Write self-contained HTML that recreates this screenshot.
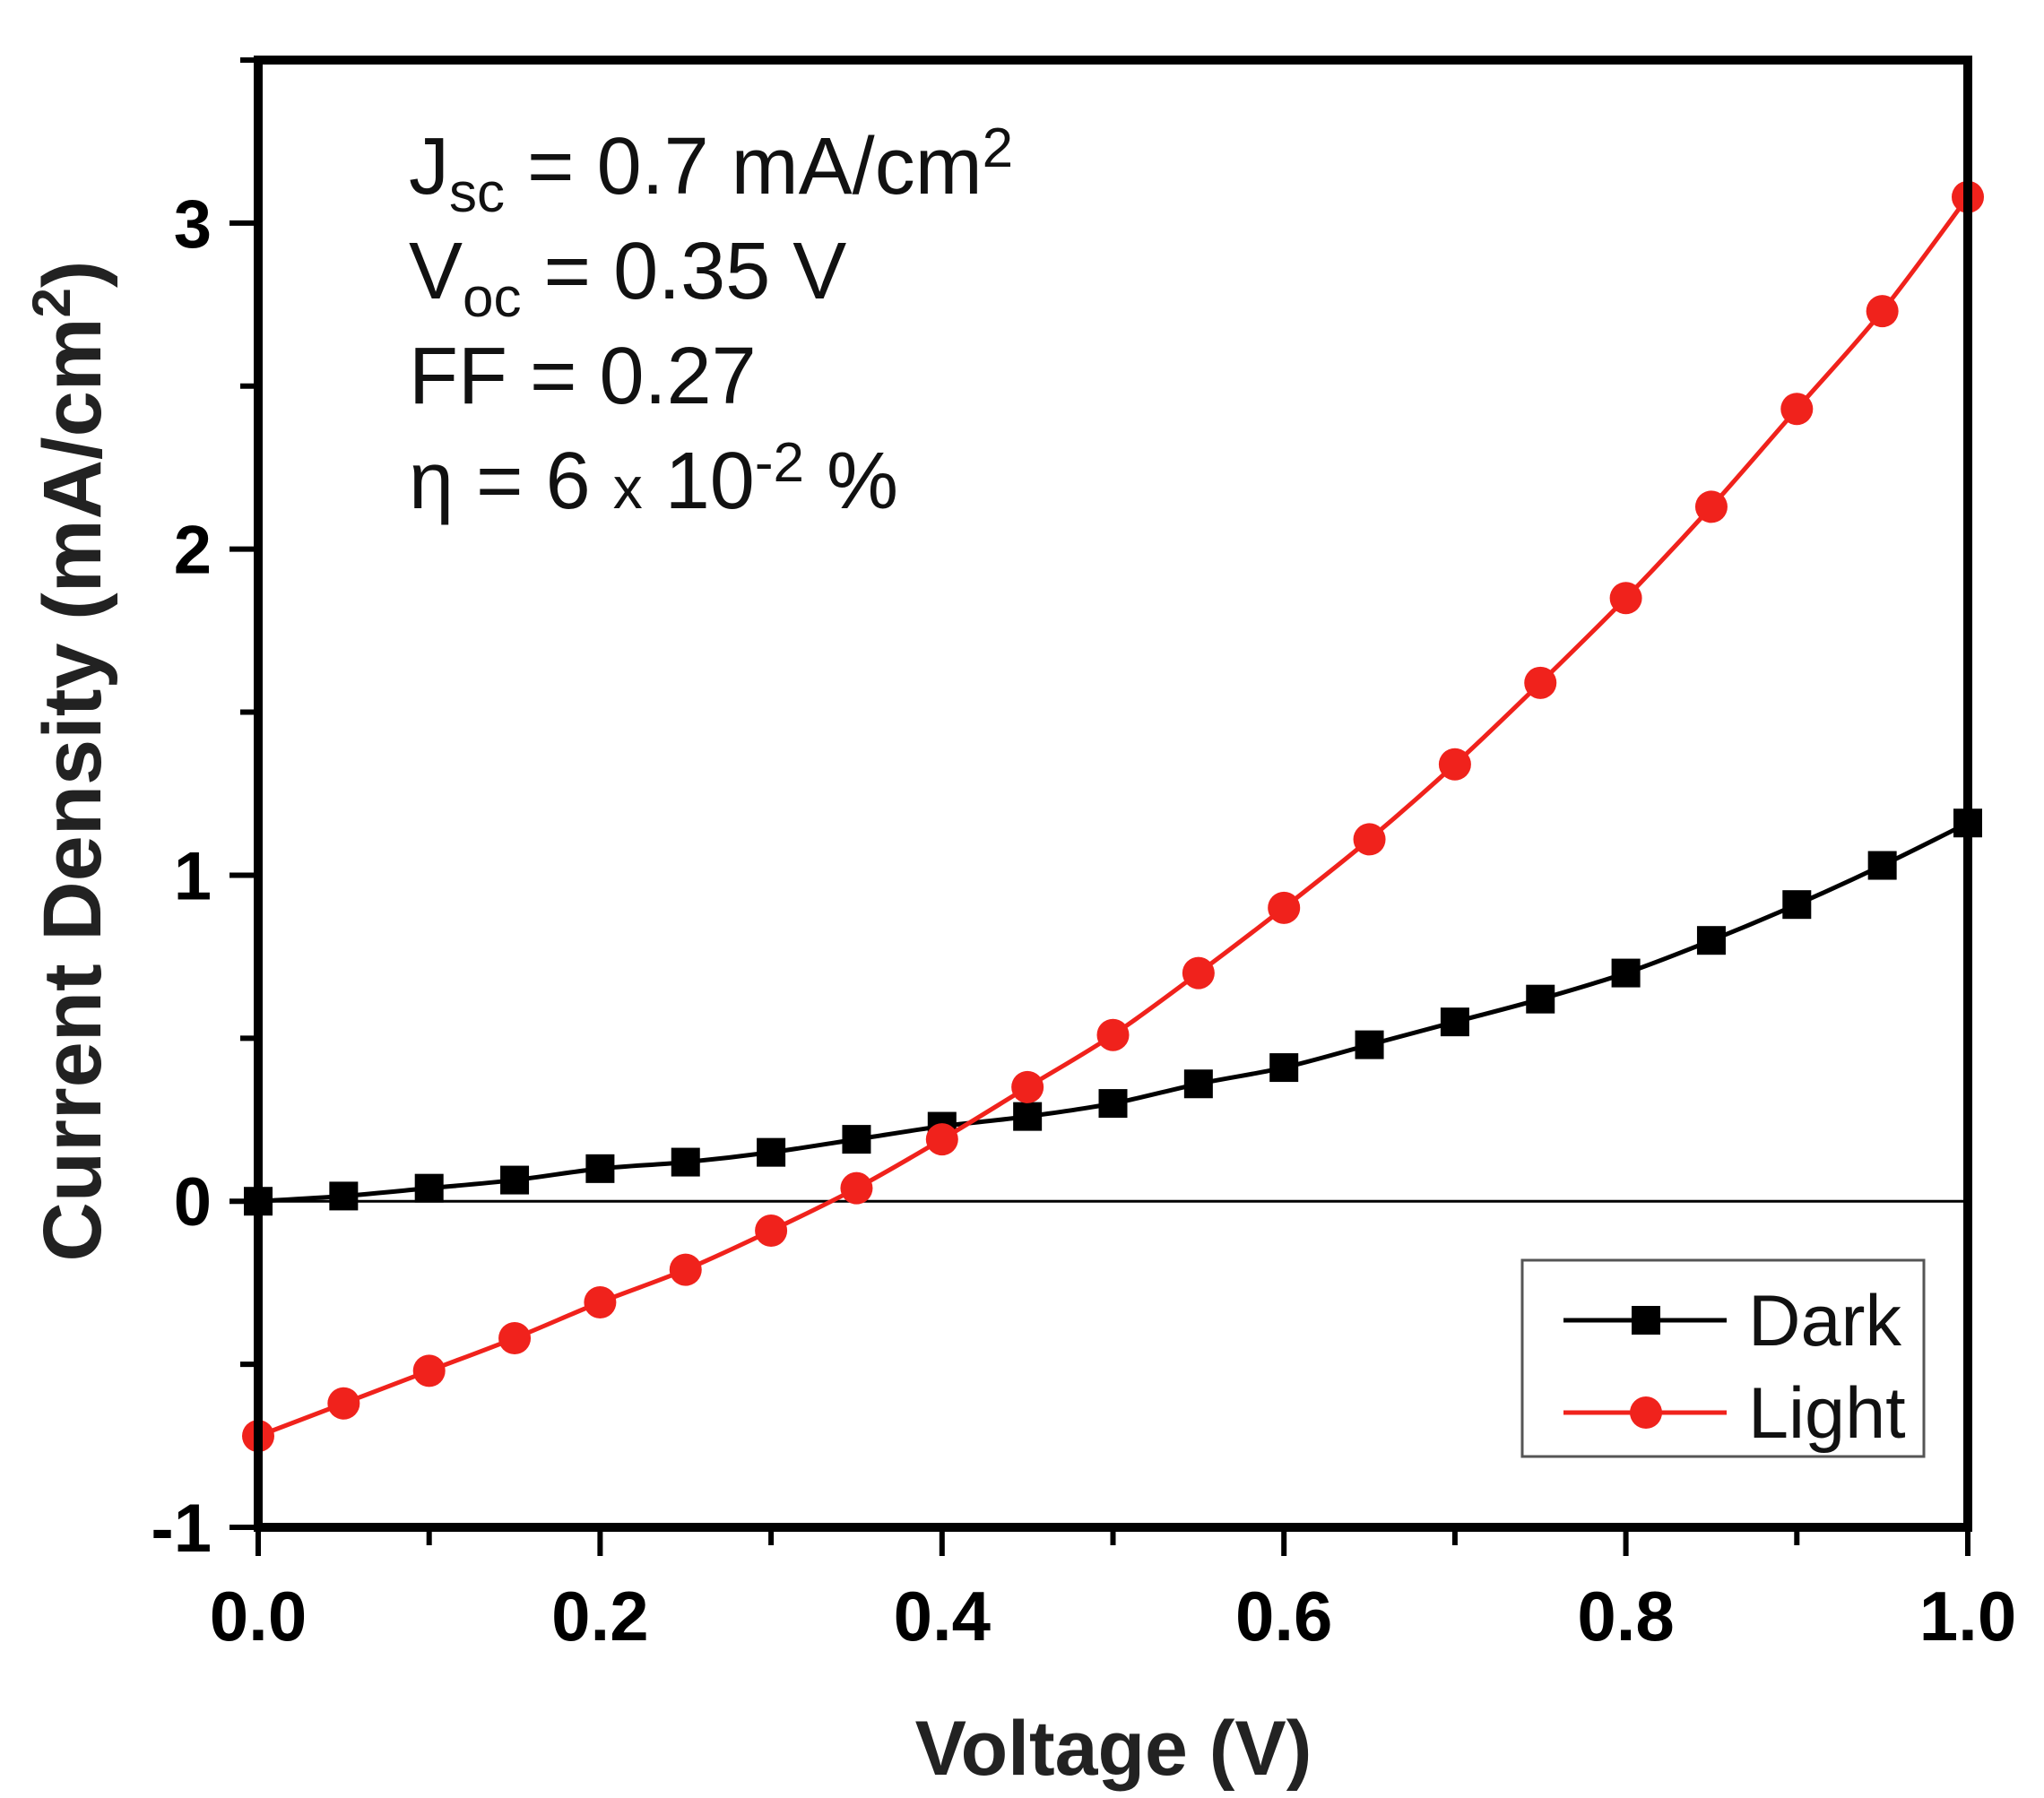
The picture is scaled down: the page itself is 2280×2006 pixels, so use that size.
<!DOCTYPE html>
<html><head><meta charset="utf-8"><style>
html,body{margin:0;padding:0;background:#fff;}
svg{display:block;font-family:"Liberation Sans",Arial,sans-serif;}
</style></head><body>
<svg id="chart" width="2280" height="2006" viewBox="0 0 2280 2006">
<g id="plot"></g>
<g font-size="90" fill="#111">
<text x="456" y="216">J<tspan font-size="62" dy="20">sc</tspan><tspan dy="-20"> = 0.7 mA/cm</tspan><tspan font-size="62" dy="-30">2</tspan></text>
<text x="456" y="333">V<tspan font-size="62" dy="20">oc</tspan><tspan dy="-20"> = 0.35 V</tspan></text>
<text x="456" y="450">FF = 0.27</text>
<text x="456" y="567">η = 6 <tspan font-size="66">x</tspan> 10<tspan font-size="62" dy="-30">-2</tspan><tspan dy="30"> %</tspan></text>
</g>
<g>
<rect x="1698" y="1406" width="448" height="219" fill="#fff" stroke="#555" stroke-width="3"/>
<line x1="1744" x2="1926" y1="1473" y2="1473" stroke="#000" stroke-width="5"/>
<rect x="1820" y="1457" width="32" height="32" fill="#000"/>
<text x="1950" y="1501" font-size="81" fill="#111">Dark</text>
<line x1="1744" x2="1926" y1="1576" y2="1576" stroke="#f0221c" stroke-width="5"/>
<circle cx="1836" cy="1576" r="18" fill="#f0221c"/>
<text x="1950" y="1604" font-size="81" fill="#111">Light</text>
</g>
<text x="1242" y="1980" text-anchor="middle" font-size="86" font-weight="bold" fill="#222">Voltage (V)</text>
<text transform="translate(112,849) rotate(-90)" text-anchor="middle" font-size="92" font-weight="bold" fill="#222">Current Density (mA/cm<tspan font-size="60" dy="-34">2</tspan><tspan dy="34">)</tspan></text>
</svg>
<script>
const xVals=[0,0.05,0.1,0.15,0.2,0.25,0.3,0.35,0.4,0.45,0.5,0.55,0.6,0.65,0.7,0.75,0.8,0.85,0.9,0.95,1.0];
const darkVals=[0,0.016,0.04,0.065,0.10,0.12,0.15,0.19,0.23,0.26,0.30,0.36,0.41,0.48,0.55,0.62,0.70,0.80,0.91,1.03,1.16];
const lightVals=[-0.72,-0.62,-0.52,-0.42,-0.31,-0.21,-0.09,0.04,0.19,0.35,0.51,0.70,0.90,1.11,1.34,1.59,1.85,2.13,2.43,2.73,3.08];
const xTicks=[0,0.2,0.4,0.6,0.8,1.0];
const xTickLabels=["0.0","0.2","0.4","0.6","0.8","1.0"];
const yTicks=[-1,0,1,2,3];
const yTickLabels=["-1","0","1","2","3"];

const L=288,R=2195,T=67,B=1704,X0=0,X1=1,Y0=-1,Y1=3.5;
const sx=v=>L+(v-X0)/(X1-X0)*(R-L);
const sy=v=>B-(v-Y0)/(Y1-Y0)*(B-T);
const NS="http://www.w3.org/2000/svg";
const g=document.getElementById('plot');
function mk(tag,attrs,parent){const e=document.createElementNS(NS,tag);for(const k in attrs)e.setAttribute(k,attrs[k]);(parent||g).appendChild(e);return e;}

let z=mk('line',{x1:L,x2:R,y1:sy(0),y2:sy(0),stroke:'#000','stroke-width':3});



for(let i=0;i<=10;i++){const v=i*0.1;const major=i%2===0;
 const t=mk('line',{x1:sx(v),x2:sx(v),y1:B,y2:B+(major?32:20),stroke:'#000','stroke-width':6});
 
 }
for(let i=0;i<=9;i++){const v=-1+i*0.5;const major=i%2===0;
 const t=mk('line',{x1:L-(major?32:20),x2:L,y1:sy(v),y2:sy(v),stroke:'#000','stroke-width':6});
 
 }
xTicks.forEach((v,i)=>{const t=mk('text',{x:sx(v),y:1830,'text-anchor':'middle','font-size':78,'font-weight':'bold'});t.textContent=xTickLabels[i];
 
 });
yTicks.forEach((v,i)=>{const t=mk('text',{x:236,y:sy(v)+27,'text-anchor':'end','font-size':76,'font-weight':'bold'});t.textContent=yTickLabels[i];
 
 });

function smoothPath(pts){
 let d='M'+pts[0][0]+','+pts[0][1];
 for(let i=0;i<pts.length-1;i++){
  const p0=pts[Math.max(0,i-1)],p1=pts[i],p2=pts[i+1],p3=pts[Math.min(pts.length-1,i+2)];
  const c1=[p1[0]+(p2[0]-p0[0])/6,p1[1]+(p2[1]-p0[1])/6];
  const c2=[p2[0]-(p3[0]-p1[0])/6,p2[1]-(p3[1]-p1[1])/6];
  d+=' C'+c1[0]+','+c1[1]+' '+c2[0]+','+c2[1]+' '+p2[0]+','+p2[1];
 }
 return d;
}
function series(vals,color,name,shape){
 const pts=xVals.map((x,i)=>[sx(x),sy(vals[i])]);
 const p=mk('path',{d:smoothPath(pts),fill:'none',stroke:color,'stroke-width':5});
 
 
 xVals.forEach((x,i)=>{let m;
  if(shape==='sq')m=mk('rect',{x:sx(x)-16,y:sy(vals[i])-16,width:32,height:32,fill:color});
  else m=mk('circle',{cx:sx(x),cy:sy(vals[i]),r:18,fill:color});
  
  });
}
series(darkVals,'#000','dark','sq');
series(lightVals,'#f0221c','light','ci');

const f=mk('rect',{x:L,y:T,width:R-L,height:B-T,fill:'none',stroke:'#000','stroke-width':10});


</script>
</body></html>
